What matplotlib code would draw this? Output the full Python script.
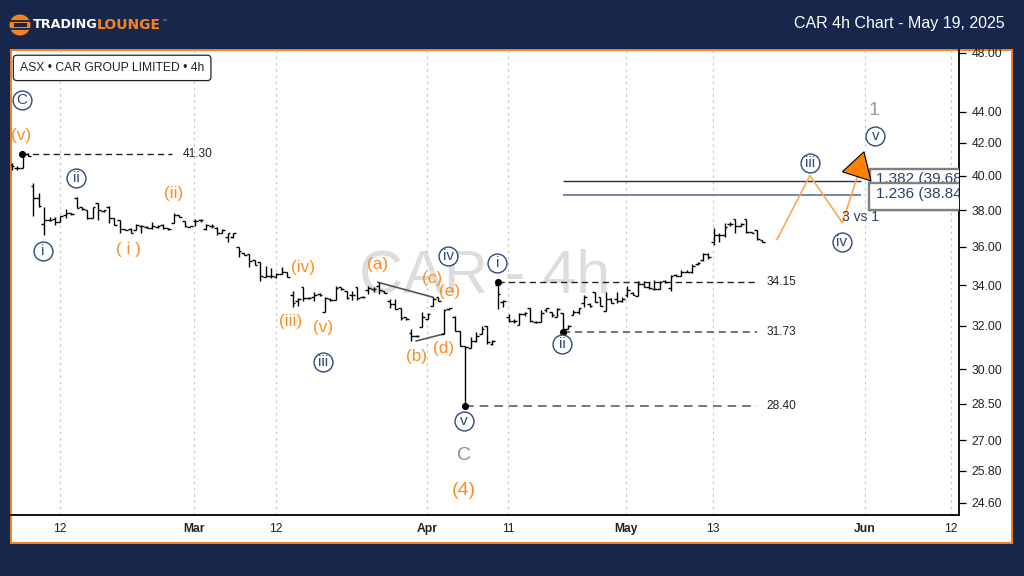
import matplotlib
matplotlib.use("Agg")
import matplotlib.pyplot as plt
import numpy as np
from matplotlib.patches import Circle, Polygon, Rectangle
from matplotlib.ticker import NullLocator

plt.rcParams["font.family"] = ["Liberation Sans", "DejaVu Sans"]

NAVY = "#16274b"
ORANGE = "#f58220"
WAVE_BLUE = "#2f4a7f"

# 4h OHLC bars, left to right
opens = [40.65, 40.47, 40.47, 41.31, 39.40, 38.71, 37.24, 37.47, 37.52, 37.36,
         37.75, 37.86, 38.71, 38.20, 38.03, 37.58, 38.42, 37.97, 38.20, 37.58,
         37.47, 36.97, 36.97, 36.92, 37.13, 37.08, 37.03, 37.08, 37.19, 37.03,
         37.30, 37.75, 37.41, 37.08, 37.41, 37.47, 36.97, 37.13, 37.03, 36.71,
         36.49, 36.49, 36.00, 35.68, 35.58, 35.27, 35.16, 34.39, 34.44, 34.39,
         34.54, 34.64, 33.49, 33.20, 33.89, 33.34, 33.39, 33.54, 32.66, 33.29,
         33.24, 33.89, 33.69, 33.49, 33.89, 33.39, 33.74, 33.79, 33.94, 33.69,
         33.20, 33.05, 32.85, 32.42, 31.66, 31.52, 31.94, 32.32, 32.95, 33.39,
         31.61, 32.80, 32.42, 31.76, 31.06, 30.97, 31.29, 31.61, 31.99, 31.15,
         34.00, 33.15, 32.42, 32.23, 32.04, 32.56, 32.85, 32.18, 32.18, 32.75,
         32.66, 32.42, 32.61, 31.85, 32.51, 32.66, 33.10, 33.05, 33.64, 33.39,
         32.70, 33.29, 33.29, 33.19, 33.49, 33.59, 33.44, 34.04, 33.89, 33.79,
         33.79, 34.19, 33.84, 34.49, 34.44, 34.69, 34.64, 35.06, 35.27, 35.63,
         36.22, 36.65, 36.60, 37.24, 37.52, 37.13, 37.52, 36.81, 36.87, 36.33]
highs = [40.77, 40.59, 41.37, 41.37, 39.58, 39.00, 38.20, 37.64, 37.64, 37.69,
         38.09, 37.86, 38.76, 38.20, 38.03, 38.20, 38.42, 38.03, 38.25, 37.58,
         37.47, 36.97, 37.03, 37.24, 37.19, 37.13, 37.36, 37.19, 37.24, 37.03,
         37.86, 37.75, 37.41, 37.13, 37.52, 37.52, 37.24, 37.24, 37.08, 36.97,
         36.76, 36.71, 36.00, 35.68, 35.58, 35.27, 35.16, 34.95, 34.85, 34.59,
         34.90, 34.64, 33.69, 33.34, 33.89, 33.39, 33.64, 33.59, 33.39, 33.34,
         33.94, 33.89, 33.69, 33.69, 33.89, 33.44, 33.94, 33.89, 34.14, 33.69,
         33.29, 33.29, 32.85, 32.42, 31.85, 31.57, 32.66, 32.61, 33.39, 33.39,
         32.80, 32.85, 32.47, 31.76, 31.06, 31.47, 31.71, 31.99, 31.99, 31.33,
         34.19, 33.24, 32.56, 32.32, 32.61, 32.66, 32.85, 32.23, 32.75, 32.85,
         32.66, 32.85, 32.61, 32.04, 32.75, 32.85, 33.49, 33.10, 33.64, 33.39,
         33.64, 33.34, 33.64, 33.39, 33.94, 33.64, 34.19, 34.19, 34.14, 34.24,
         34.19, 34.24, 34.49, 34.54, 34.75, 34.75, 35.06, 35.16, 35.68, 35.68,
         37.03, 36.71, 37.30, 37.36, 37.52, 37.30, 37.52, 36.81, 36.87, 36.33]
lows = [40.35, 40.35, 40.47, 41.19, 37.69, 38.20, 36.65, 37.41, 37.19, 37.36,
        37.58, 37.75, 38.14, 38.03, 37.52, 37.58, 37.47, 37.92, 37.30, 37.19,
        36.76, 36.87, 36.71, 36.92, 36.76, 37.03, 36.97, 37.03, 36.97, 36.92,
        37.30, 37.64, 37.08, 37.08, 37.13, 37.36, 36.92, 37.03, 36.60, 36.71,
        36.22, 36.44, 35.47, 35.53, 34.90, 35.01, 34.19, 34.39, 34.34, 34.34,
        34.54, 34.39, 32.90, 32.95, 33.19, 33.29, 33.19, 33.44, 32.66, 33.19,
        33.24, 33.74, 33.29, 33.24, 33.24, 33.34, 33.54, 33.64, 33.54, 33.59,
        32.85, 32.80, 32.27, 32.27, 31.29, 31.47, 31.94, 32.32, 32.95, 33.19,
        31.61, 32.75, 31.76, 31.06, 28.45, 30.97, 31.24, 31.61, 31.15, 31.10,
        32.80, 32.90, 32.18, 32.13, 32.04, 32.46, 32.18, 32.13, 32.18, 32.66,
        32.42, 32.42, 31.80, 31.85, 32.51, 32.56, 32.90, 32.90, 33.15, 32.95,
        32.70, 33.10, 33.10, 33.15, 33.39, 33.49, 33.44, 33.89, 33.79, 33.74,
        33.79, 34.09, 33.69, 34.44, 34.44, 34.64, 34.59, 35.01, 35.22, 35.32,
        36.11, 36.27, 36.54, 37.13, 36.76, 37.13, 36.71, 36.76, 36.33, 36.27]
closes = [40.59, 40.47, 41.25, 41.19, 38.71, 38.25, 37.47, 37.47, 37.36, 37.69,
          37.86, 37.80, 38.14, 38.09, 37.58, 38.20, 38.03, 38.03, 37.58, 37.19,
          36.97, 36.87, 36.76, 37.19, 37.13, 37.03, 37.13, 37.13, 37.03, 36.97,
          37.75, 37.64, 37.13, 37.13, 37.41, 37.47, 37.19, 37.13, 36.71, 36.92,
          36.71, 36.71, 35.74, 35.53, 35.22, 35.01, 34.44, 34.44, 34.44, 34.54,
          34.64, 34.39, 33.10, 33.29, 33.34, 33.34, 33.49, 33.49, 33.34, 33.24,
          33.84, 33.79, 33.34, 33.49, 33.34, 33.39, 33.84, 33.79, 33.74, 33.59,
          33.05, 32.80, 32.37, 32.32, 31.52, 31.52, 32.42, 32.56, 33.29, 33.19,
          32.75, 32.85, 31.76, 31.06, 31.01, 31.29, 31.52, 31.85, 31.24, 31.29,
          33.54, 33.19, 32.23, 32.23, 32.56, 32.61, 32.23, 32.18, 32.61, 32.85,
          32.51, 32.80, 31.85, 31.99, 32.66, 32.85, 33.39, 32.95, 33.15, 32.95,
          33.29, 33.10, 33.19, 33.29, 33.74, 33.49, 34.04, 33.89, 33.84, 33.79,
          34.14, 34.14, 34.44, 34.44, 34.64, 34.69, 34.95, 35.11, 35.63, 35.47,
          36.65, 36.65, 37.08, 37.24, 37.13, 37.24, 36.81, 36.76, 36.38, 36.27]

x_tick_pos = [8.9, 33.8, 48.9, 76.9, 91.9, 113.7, 129.9, 158.0, 173.9]
x_tick_labels = ["12", "Mar", "12", "Apr", "11", "May", "13", "Jun", "12"]
month_labels = ["Mar", "Apr", "May", "Jun"]
y_ticks = [48, 44, 42, 40, 38, 36, 34, 32, 30, 28.5, 27, 25.8, 24.6]

# level lines: start bar, end bar, price, label
level_start = [1.9, 90.0, 102.0, 84.0]
level_end = [29.7, 138.0, 138.0, 138.0]
level_price = [41.30, 34.15, 31.73, 28.40]
level_colors = ["#222222", "#222222", "#555555", "#777777"]
level_widths = [1.0, 1.0, 1.15, 1.4]

# projected path after the last bar
path_x = [141.7, 147.8, 153.8, 156.5]
path_y = [36.38, 40.00, 37.30, 39.87]

# wave labels: bar position, price, text
circled_x = [1.9, 11.9, 5.8, 57.65, 80.8, 89.9, 101.9, 83.75, 147.8, 153.7, 159.9]
circled_y = [44.76, 39.87, 35.79, 30.34, 35.48, 35.11, 31.15, 27.78, 40.77, 36.27, 42.43]
circled_txt = ["C", "ii", "i", "iii", "iv", "i", "ii", "v", "iii", "iv", "v"]
orange_x = [1.7, 29.9, 21.7, 53.9, 51.7, 57.65, 67.8, 74.9, 77.8, 79.9, 81.0]
orange_y = [42.49, 38.94, 35.84, 34.90, 32.20, 31.90, 35.06, 30.56, 34.34, 30.92, 33.69]
orange_txt = ["(v)", "(ii)", "( i )", "(iv)", "(iii)", "(v)", "(a)", "(b)", "(c)", "(d)", "(e)"]

bars_x = np.arange(len(opens))

fig = plt.figure(figsize=(10.24, 5.76), dpi=100, facecolor=NAVY)

# page furniture in pixel coordinates
bg = fig.add_axes([0, 0, 1, 1])
bg.set_xlim(0, 1024)
bg.set_ylim(576, 0)
bg.axis("off")
bg.add_patch(Rectangle((11, 50), 1001, 493, fc="white", ec=ORANGE, lw=1.4))
bg.add_patch(Circle((20, 25), 10.5, fc=ORANGE, ec="none"))
for yy in [21, 29]:
    bg.plot([10, 30], [yy, yy], color=NAVY, lw=1.3, solid_capstyle="butt")
bg.add_patch(Rectangle((13.5, 23.3), 13, 3.4, fc=NAVY, ec="none"))
bg.text(33, 25, "TRADING", color="white", fontsize=9.2, fontweight="bold",
        family="DejaVu Sans", va="center", ha="left")
bg.text(97, 25, "LOUNGE", color=ORANGE, fontsize=10, fontweight="bold",
        family="DejaVu Sans", va="center", ha="left")
bg.text(161, 21, "™", color=ORANGE, fontsize=4, va="center", ha="left")
bg.text(1005, 23.5, "CAR 4h Chart - May 19, 2025", color="white", fontsize=11.5,
        va="center", ha="right")

ax = fig.add_axes([11 / 1024, 1 - 515 / 576, 948 / 1024, 465 / 576])
ax.patch.set_alpha(0)
ax.set_yscale("log")
ax.set_xlim(-0.13, 175.4)
ax.set_ylim(24.16, 48.21)

ax.text(0.4995, 0.512, "CAR - 4h", transform=ax.transAxes, fontsize=44, color="#dddddd",
        ha="center", va="center", zorder=0)

for xp in x_tick_pos:
    ax.axvline(xp, color="#c8c8c8", lw=0.9, ls=(0, (2, 3)), zorder=1)

# fib levels and their clipped boxes
ax.hlines(39.68, 102, 157.2, color="#1c2f55", lw=1.0, zorder=2)
ax.hlines(38.84, 102, 157.2, color="#6f7d9b", lw=1.3, zorder=2)
ax.add_patch(Rectangle((158.9, 38.0), 30, 2.4, fc="white", ec="#808080", lw=1.7, zorder=3))
ax.text(160.0, 39.80, "1.382 (39.68)", fontsize=11, color="#2c3f66", va="center", ha="left",
        clip_on=True, zorder=4)
ax.add_patch(Rectangle((158.7, 38.0), 30, 1.56, fc="white", ec="#808080", lw=1.7, zorder=5))
ax.text(160.0, 38.90, "1.236 (38.84)", fontsize=11, color="#2c3f66", va="center", ha="left",
        clip_on=True, zorder=6)

# OHLC bars
ax.vlines(bars_x, lows, highs, color="black", lw=1.0, zorder=7, snap=True)
ax.hlines(opens, bars_x - 0.5, bars_x, color="black", lw=1.0, zorder=7, snap=True)
ax.hlines(closes, bars_x, bars_x + 0.5, color="black", lw=1.0, zorder=7, snap=True)

for x0, x1, py, col, lw in zip(level_start, level_end, level_price, level_colors, level_widths):
    ax.hlines(py, x0, x1, color=col, lw=lw, ls=(0, (4.5, 3)), zorder=6)
    ax.text(x1 + 1.7 if x1 > 100 else x1 + 2.0, py, f"{py:.2f}", fontsize=8.6, color="#222222",
            va="center", ha="left", zorder=8)
ax.scatter(level_start, level_price, s=26, color="black", zorder=9, linewidths=0)

# corrective trend lines
ax.plot([67.8, 78.0], [34.14, 33.39], color="#555555", lw=1.2, zorder=6)
ax.plot([74.9, 79.9], [31.29, 31.61], color="#555555", lw=1.2, zorder=6)

ax.plot(path_x, path_y, color="#ffa64d", lw=1.2, zorder=8)
ax.add_patch(Polygon([(157.8, 41.44), (153.8, 40.23), (159.1, 39.69)], closed=True,
                     fc="#ff7f00", ec="black", lw=0.8, zorder=10))
ax.text(157.1, 37.64, "3 vs 1", fontsize=10, color="#2c3f66", ha="center", va="center", zorder=9)

ax.scatter(circled_x, circled_y, s=185, facecolor="white", edgecolor=WAVE_BLUE, linewidths=1.0, zorder=9)
for xx, yy, tt in zip(circled_x, circled_y, circled_txt):
    ax.text(xx, yy, tt, fontsize=11, color=WAVE_BLUE, ha="center", va="center", zorder=10)
for xx, yy, tt in zip(orange_x, orange_y, orange_txt):
    ax.text(xx, yy, tt, fontsize=12.3, color="#ff8a1f", ha="center", va="center", zorder=10)
ax.text(83.8, 25.04, "(4)", fontsize=14, color="#ff8a1f", ha="center", va="center", zorder=10)
ax.text(83.8, 26.38, "C", fontsize=14, color="#8a8f9c", ha="center", va="center", zorder=10)
ax.text(159.7, 44.06, "1", fontsize=14, color="#9a9a9a", ha="center", va="center", zorder=10)

ax.text(0.0095, 0.9615, "ASX • CAR GROUP LIMITED • 4h", transform=ax.transAxes,
        fontsize=8.75, color="#222222", ha="left", va="center", zorder=11,
        bbox=dict(boxstyle="round,pad=0.55,rounding_size=0.3", fc="white", ec="#222222", lw=0.9))

for side in ["top", "left"]:
    ax.spines[side].set_visible(False)
for side in ["right", "bottom"]:
    ax.spines[side].set_linewidth(1.3)

ax.yaxis.tick_right()
ax.yaxis.set_minor_locator(NullLocator())
ax.set_yticks(y_ticks, labels=[f"{v:.2f}" for v in y_ticks])
ax.tick_params(axis="y", which="major", length=5, width=0.9, labelsize=8.7, pad=4,
               labelcolor="#222222")
ax.set_xticks(x_tick_pos, labels=x_tick_labels)
ax.tick_params(axis="x", length=0, labelsize=8.7, pad=6, labelcolor="#222222")
for lab in ax.get_xticklabels():
    if lab.get_text() in month_labels:
        lab.set_fontweight("bold")

fig.savefig("out.png", dpi=100, facecolor=NAVY)
